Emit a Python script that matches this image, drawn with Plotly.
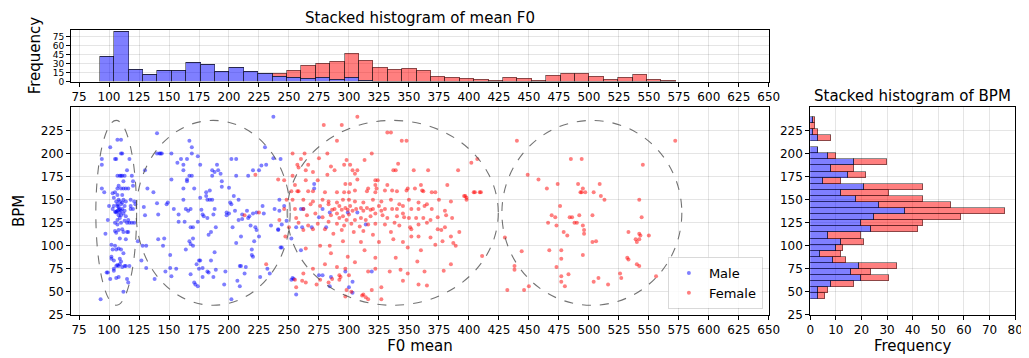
import plotly.graph_objects as go

# ---------------- data ----------------
f0_bin_start = 92.5
f0_bin_width = 12.0
f0_male_counts = [41, 84, 20, 11, 18, 18, 32, 28, 16, 23, 17, 13, 8, 7, 5, 6, 3, 6, 1, 0,
                  0, 0, 0, 0, 0, 0, 0, 0, 0, 0, 0, 0, 0, 0, 0, 0, 0, 0, 0, 0]
f0_female_counts = [0, 0, 0, 0, 0, 0, 0, 0, 0, 0, 0, 1, 6, 12, 22, 24, 31, 41, 34, 23,
                    20, 22, 19, 9, 7, 5, 4, 1, 7, 5, 2, 10, 13, 13, 8, 3, 7, 11, 3, 2]

bpm_bin_start = 41.7
bpm_bin_width = 6.61
bpm_male_counts = [3, 3, 8, 20, 16, 19, 9, 4, 10, 12, 7, 24, 20, 25, 37, 27, 18, 12, 21, 5,
                   15, 8, 17, 7, 3, 0, 3, 1, 0, 1]
bpm_female_counts = [3, 4, 9, 11, 8, 15, 5, 8, 3, 9, 13, 18, 24, 34, 39, 28, 26, 19, 23, 7,
                     7, 9, 13, 3, 0, 0, 5, 2, 2, 1]

male_points = [
    (93,42),(94,194),(94,188),(94,162),(96,158),(97,113),(98,71),(99,71),(99,128),(100,143),
    (101,207),(101,64),(102,88),(102,86),(102,101),(103,157),(103,96),(104,84),(104,143),(104,73),
    (104,75),(105,158),(105,137),(105,194),(105,116),(106,194),(106,148),(106,137),(106,114),(106,96),
    (106,65),(106,78),(107,215),(107,176),(107,162),(107,155),(107,143),(107,138),(107,128),(107,123),
    (107,79),(108,139),(108,165),(108,133),(108,150),(108,117),(108,97),(108,78),(108,66),(109,176),
    (109,140),(109,148),(109,130),(109,108),(109,86),(109,80),(110,215),(110,200),(110,176),(110,162),
    (110,145),(110,138),(110,125),(110,83),(111,200),(111,176),(111,155),(111,140),(111,118),(111,77),
    (112,170),(112,162),(112,150),(112,135),(112,115),(112,50),(113,176),(113,143),(113,127),(113,78),
    (114,162),(114,148),(114,132),(114,107),(114,78),(115,182),(115,125),(115,115),(115,64),(116,162),
    (116,128),(116,115),(116,60),(117,194),(117,125),(117,78),(118,150),(118,143),(118,140),(119,176),
    (119,125),(120,170),(120,165),(120,140),(121,148),(121,125),(122,145),(106,136),(108,142),(109,136),
    (110,133),(107,145),(111,147),(105,125),(113,138),(104,152),(103,140),(112,92),(105,100),(110,96),
    (124,105),(127,84),(128,100),(129,142),(130,133),(130,182),(131,100),(131,76),(132,162),(137,158),
    (138,64),(140,222),(140,200),(140,146),(141,134),(141,107),(142,200),(143,200),(144,200),(145,100),
    (146,108),(147,72),(148,145),(149,147),(151,90),(151,76),(152,200),(152,67),(152,172),(154,140),
    (156,75),(157,190),(158,126),(158,134),(160,194),(162,188),(162,182),(162,150),(162,162),(163,126),
    (164,140),(164,96),(165,172),(165,194),(165,170),(166,138),(167,214),(167,176),(167,105),(168,102),
    (168,140),(168,120),(168,69),(169,200),(169,207),(169,176),(170,100),(170,120),(170,108),(171,162),
    (171,60),(172,58),(173,80),(174,56),(174,197),(174,126),(175,84),(175,75),(176,188),(176,152),
    (176,84),(177,139),(178,134),(178,76),(178,66),(179,132),(181,158),(181,154),(182,150),(182,130),
    (182,72),(183,112),(183,71),(184,150),(184,160),(185,84),(185,115),(186,150),(186,182),(186,176),
    (187,134),(187,66),(188,140),(188,180),(188,93),(189,120),(189,74),(190,188),(191,182),(193,178),
    (194,164),(194,170),(196,58),(197,72),(198,133),(198,136),(200,135),(200,163),(201,147),(202,194),
    (202,145),(202,42),(203,120),(204,154),(205,138),(206,194),(206,176),(206,103),(207,62),(208,150),
    (208,128),(209,78),(209,56),(210,78),(210,110),(211,129),(211,134),(213,70),(214,77),(215,138),
    (216,176),(216,130),(217,132),(218,122),(219,90),(219,96),(220,182),(220,135),(220,88),(221,105),
    (222,120),(223,136),(223,117),(225,182),(225,110),(226,66),(227,187),(228,143),(229,135),(230,207),
    (231,188),(232,75),(234,70),(235,122),(237,195),(237,240),(238,140),(241,118),(242,138),(243,98),
    (243,194),(244,123),(248,127),(242,150),(246,143),(271,162),(271,167),(260,140),(262,140),(278,140),
    (275,131),(284,136),(299,136),(307,136),(314,123),(269,120),(261,120),(256,120),(252,108),(244,98),
    (260,95),(281,120),(275,68),(278,68),(285,66),(284,56),(297,72),(303,61),(300,55),(303,49),
    (319,72),(253,65),(252,63),(254,64),(256,47),(241,117),
]

female_points = [
    (222,177),(225,136),(231,80),(213,133),(241,172),(246,140),(242,128),(248,150),(250,120),(247,110),
    (307,240),(279,231),(294,231),(332,223),(335,223),(290,214),(344,214),(348,214),(282,200),(319,200),
    (313,193),(407,194),(257,188),(266,188),(296,188),(301,188),(341,189),(264,182),(288,182),(303,182),
    (307,182),(337,182),(339,182),(354,182),(366,182),(391,182),(282,177),(305,178),(274,171),(264,171),
    (246,171),(297,167),(301,167),(307,172),(322,171),(324,171),(255,166),(322,166),(332,166),(360,166),
    (382,166),(252,159),(257,159),(266,159),(316,162),(323,162),(336,160),(349,162),(355,162),(361,160),
    (369,158),(253,200),(263,200),(275,195),(298,193),(253,176),(258,185),(260,194),(270,180),(285,186),
    (258,159),(270,159),(280,158),(290,158),(296,158),(300,158),(305,160),(315,159),(322,158),(330,160),
    (340,159),(348,160),(362,159),(372,158),(397,154),(398,152),(404,158),(410,158),
    (253,150),(262,150),(270,148),(278,150),(283,148),(290,147),(295,150),(300,150),(305,148),(312,147),
    (320,150),(327,148),(335,150),(342,145),(350,150),(358,147),(365,145),(375,150),(385,148),
    (255,140),(262,140),(268,145),(276,143),(283,145),(288,140),(292,143),(297,141),(301,143),(306,140),
    (310,141),(315,141),(320,140),(325,143),(330,140),(336,140),(340,140),(345,143),(352,140),(358,140),
    (363,143),(369,140),(380,138),(286,139),(294,139),(299,139),(303,138),(312,138),(318,139),(327,138),
    (256,130),(265,133),(272,135),(278,131),(285,133),(290,135),(295,132),(300,134),(305,128),(310,130),
    (318,132),(322,135),(328,133),(332,130),(340,132),(345,135),(350,130),(356,130),(362,130),(368,128),
    (374,131),(381,133),(386,130),(292,130),(298,128),(314,128),(346,131),
    (258,125),(266,122),(274,124),(283,126),(290,124),(296,122),(302,124),(309,121),(316,123),(322,124),
    (330,123),(338,125),(342,122),(351,120),(358,123),(365,125),(374,118),(380,120),(392,115),
    (262,117),(270,118),(280,118),(287,113),(294,117),(304,115),(312,116),(320,112),(335,115),(352,118),
    (358,110),(368,109),(378,105),(385,110),(377,117),(387,103),
    (276,100),(284,100),(295,105),(310,104),(325,104),(337,107),(345,104),(352,110),(360,95),(372,101),
    (389,100),(411,89),(264,97),(285,92),(299,88),(313,95),(322,87),(339,87),(349,98),(357,83),
    (270,75),(280,80),(290,77),(297,75),(305,82),(316,72),(322,75),(334,72),(343,74),(349,70),
    (363,72),(379,73),(385,80),(261,62),(264,60),(276,63),(283,60),(286,64),(292,68),(298,52),
    (300,68),(311,46),(314,44),(319,52),(327,55),(345,62),(358,58),(365,57),(256,55),(262,70),
    (255,63),(273,58),(292,63),(293,66),(327,42),(316,42),(312,47),(297,45),(302,50),
    (405,158),(409,158),(396,154),(398,150),(402,190),
    (440,214),(572,214),(485,194),(494,194),(545,188),(449,177),(458,172),(465,162),(474,167),(491,167),
    (495,162),(493,158),(494,158),(497,158),(504,158),(509,167),(510,154),(513,150),(542,150),(476,143),
    (469,133),(472,131),(484,131),(486,131),(492,133),(503,133),(544,131),(466,125),(473,122),(488,125),
    (490,125),(495,122),(496,117),(496,113),(479,115),(482,111),(533,115),(542,113),(543,111),(542,107),
    (539,107),(540,104),(550,111),(503,104),(506,105),(444,94),(467,95),(477,95),(477,86),(495,90),
    (532,87),(533,85),(540,80),(542,78),(473,77),(438,78),(438,74),(477,67),(483,69),(477,61),
    (480,56),(526,70),(527,65),(508,65),(504,61),(516,58),(556,67),(450,56),(446,52),(432,52),
    (430,109),
]

ellipses = [  # (center F0, center BPM, half-width F0, half-height BPM)
    (106.0, 135.7, 17.0, 100.3),
    (186.8, 135.7, 64.2, 100.3),
    (336.5, 135.7, 88.0, 100.3),
    (502.5, 135.7, 75.0, 100.3),
]

f0_ticks = list(range(75, 651, 25))
bpm_ticks = list(range(25, 226, 25))
freq_ticks_top = [0, 15, 30, 45, 60, 75]
freq_ticks_right = list(range(0, 81, 10))

# ---------------- figure ----------------
W, H = 1029, 358
BLUE = "rgba(0,0,255,0.5)"
RED = "rgba(255,0,0,0.5)"
EDGE = "rgba(0,0,0,0.45)"
GRID = "rgba(0,0,0,0.1)"
FONT = "DejaVu Sans"

f0_centers = [f0_bin_start + f0_bin_width * (i + 0.5) for i in range(len(f0_male_counts))]
bpm_centers = [bpm_bin_start + bpm_bin_width * (i + 0.5) for i in range(len(bpm_male_counts))]

fig = go.Figure()

fig.add_trace(go.Bar(x=f0_centers, y=f0_male_counts, width=f0_bin_width, marker_color=BLUE,
                     marker_line=dict(color=EDGE, width=1), xaxis="x", yaxis="y", showlegend=False))
fig.add_trace(go.Bar(x=f0_centers, y=f0_female_counts, width=f0_bin_width, marker_color=RED,
                     marker_line=dict(color=EDGE, width=1), xaxis="x", yaxis="y", showlegend=False))

fig.add_trace(go.Bar(y=bpm_centers, x=bpm_male_counts, width=bpm_bin_width, orientation="h",
                     marker_color=BLUE, marker_line=dict(color=EDGE, width=1),
                     xaxis="x3", yaxis="y3", showlegend=False))
fig.add_trace(go.Bar(y=bpm_centers, x=bpm_female_counts, width=bpm_bin_width, orientation="h",
                     marker_color=RED, marker_line=dict(color=EDGE, width=1),
                     xaxis="x3", yaxis="y3", showlegend=False))

fig.add_trace(go.Scatter(x=[p[0] for p in male_points], y=[p[1] for p in male_points],
                         mode="markers", name="Male", xaxis="x2", yaxis="y2",
                         marker=dict(color="blue", opacity=0.5, size=4, line=dict(width=0))))
fig.add_trace(go.Scatter(x=[p[0] for p in female_points], y=[p[1] for p in female_points],
                         mode="markers", name="Female", xaxis="x2", yaxis="y2",
                         marker=dict(color="red", opacity=0.5, size=4, line=dict(width=0))))

shapes = []
for cx, cy, rx, ry in ellipses:
    shapes.append(dict(type="circle", xref="x2", yref="y2", x0=cx - rx, x1=cx + rx,
                       y0=cy - ry, y1=cy + ry, line=dict(color="rgba(80,80,80,0.8)", width=1.1, dash="dash")))

def px_x(a, b):
    return [a / W, b / W]

def px_y(top, bottom):
    return [1 - bottom / H, 1 - top / H]

axis_common = dict(showline=True, linecolor="black", linewidth=1, mirror=True, ticks="outside",
                   ticklen=4, tickcolor="black", showgrid=True, gridcolor=GRID, gridwidth=1,
                   zeroline=False, tickfont=dict(family=FONT, size=12, color="black"))
axis_no_font = {k: v for k, v in axis_common.items() if k != "tickfont"}

fig.update_layout(
    width=W, height=H, margin=dict(l=0, r=0, t=0, b=0),
    plot_bgcolor="white", paper_bgcolor="white", barmode="stack", bargap=0,
    font=dict(family=FONT, color="black"),
    shapes=shapes,
    xaxis=dict(domain=px_x(60, 768), range=[68.4, 650], tickvals=f0_ticks, anchor="y", **axis_common),
    yaxis=dict(domain=px_y(22, 75), range=[0, 87], tickvals=freq_ticks_top, anchor="x",
               title=dict(text="Frequency", font=dict(size=15, family=FONT), standoff=8),
               tickfont=dict(family=FONT, size=9, color="black"), **axis_no_font),
    xaxis2=dict(domain=px_x(60, 768), range=[68.4, 650], tickvals=f0_ticks, anchor="y2",
                title=dict(text="F0 mean", font=dict(size=15, family=FONT), standoff=2), **axis_common),
    yaxis2=dict(domain=px_y(101, 313), range=[25, 250.5], tickvals=bpm_ticks, anchor="x2",
                title=dict(text="BPM", font=dict(size=15, family=FONT), standoff=12), **axis_common),
    xaxis3=dict(domain=px_x(810, 1018), range=[0, 80], tickvals=freq_ticks_right, anchor="y3",
                title=dict(text="Frequency", font=dict(size=15, family=FONT), standoff=2), **axis_common),
    yaxis3=dict(domain=px_y(101, 313), range=[25, 250.5], tickvals=bpm_ticks, anchor="x3", **axis_common),
    legend=dict(x=762 / W, xanchor="right", y=1 - 307 / H, yanchor="bottom", traceorder="normal",
                bgcolor="rgba(255,255,255,0.85)", bordercolor="rgba(0,0,0,0.15)", borderwidth=1,
                font=dict(family=FONT, size=13)),
    annotations=[
        dict(text="Stacked histogram of mean F0", x=414 / W, y=1 - 10 / H, xref="paper", yref="paper",
             showarrow=False, font=dict(family=FONT, size=15), xanchor="center", yanchor="middle"),
        dict(text="Stacked histogram of BPM", x=914 / W, y=1 - 90 / H, xref="paper", yref="paper",
             showarrow=False, font=dict(family=FONT, size=15), xanchor="center", yanchor="middle"),
    ],
)

fig.write_html("out.html")
